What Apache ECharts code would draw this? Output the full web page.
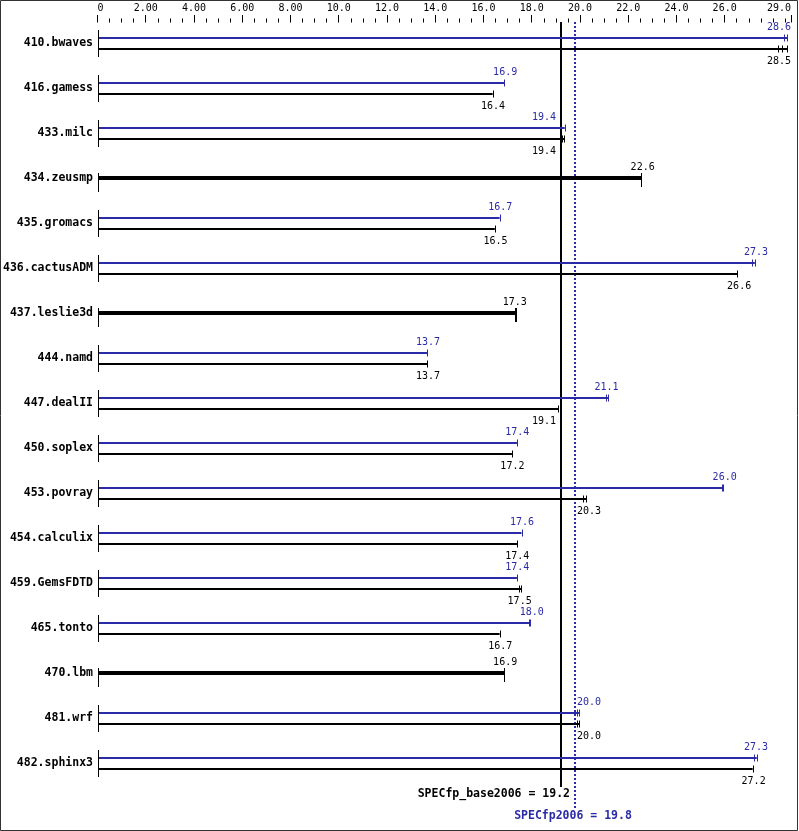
<!DOCTYPE html>
<html>
<head>
<meta charset="utf-8">
<script src="https://cdn.jsdelivr.net/npm/echarts@6/dist/echarts.min.js"></script>
<style>
html,body{margin:0;padding:0;background:#fff;}
#chart{width:799px;height:831px;}
</style>
</head>
<body>
<div id="chart"></div>
<script>
const categories = ['410.bwaves','416.gamess','433.milc','434.zeusmp','435.gromacs','436.cactusADM','437.leslie3d','444.namd','447.dealII','450.soplex','453.povray','454.calculix','459.GemsFDTD','465.tonto','470.lbm','481.wrf','482.sphinx3'];
const peakValues = [28.6, 16.9, 19.4, null, 16.7, 27.3, null, 13.7, 21.1, 17.4, 26.0, 17.6, 17.4, 18.0, null, 20.0, 27.3];
const baseValues = [28.5, 16.4, 19.4, 22.6, 16.5, 26.6, 17.3, 13.7, 19.1, 17.2, 20.3, 17.4, 17.5, 16.7, 16.9, 20.0, 27.2];
const peakRuns = [[28.45,28.6],[16.87],[19.37],null,[16.67],[27.15,27.25],null,[13.68],[21.08,21.18],[17.39],[25.9,25.95],[17.58],[17.39],[17.87,17.95],null,[19.86,19.97],[27.23,27.33]];
const baseRuns = [[28.22,28.38,28.59],[16.38],[19.24,19.34],[22.55],[16.47],[26.53],[17.29,17.36],[13.68],[19.09],[17.18],[20.12,20.26],[17.39],[17.46,17.57],[16.67],[16.86],[19.86,19.98],[27.16]];
const baseMean = 19.2;
const peakMean = 19.8;
const baseMeanLabel = 'SPECfp_base2006 = 19.2';
const peakMeanLabel = 'SPECfp2006 = 19.8';
const axisMax = 28.75;
const majorTicks = [0,2,4,6,8,10,12,14,16,18,20,22,24,26,28.75];
const majorLabels = ['0','2.00','4.00','6.00','8.00','10.0','12.0','14.0','16.0','18.0','20.0','22.0','24.0','26.0','29.0'];
const minorTicks = [0.5,1,1.5,2.5,3,3.5,4.5,5,5.5,6.5,7,7.5,8.5,9,9.5,10.5,11,11.5,12.5,13,13.5,14.5,15,15.5,16.5,17,17.5,18.5,19,19.5,20.5,21,21.5,22.5,23,23.5,24.5,25,25.5,26.5,27,27.5,28,28.5];

const BLUE = '#2b2ba8';
const BLACK = '#000000';
const MONO = '"DejaVu Sans Mono", monospace';

const chart = echarts.init(document.getElementById('chart'), null, {renderer:'canvas'});

function line(x1,y1,x2,y2,color,w,dash){
  return {type:'line', shape:{x1:x1,y1:y1,x2:x2,y2:y2}, style:{stroke:color,lineWidth:w,lineDash:dash||null}, silent:true};
}
function label(text,x,y,color,font,align){
  return {type:'text', style:{text:text,x:x,y:y,fill:color,font:font,align:align||'center',verticalAlign:'middle'}, silent:true, z2:10};
}

const AXIS_END_PX = 791;
const LABEL_W = 24;

function renderBench(params, api){
  const i = api.value(0);
  const p0 = api.coord([0, i]);
  const c = Math.round(p0[1]);
  const x0 = Math.round(p0[0]) + 0.5;
  const X = v => api.coord([v, i])[0];
  const xb = Math.round(X(baseMean)), xp = Math.round(X(peakMean));
  const kids = [];
  const pv = peakValues[i], bv = baseValues[i];
  const place = (x) => {
    x = Math.min(x, AXIS_END_PX - LABEL_W/2);
    const lo = x - LABEL_W/2, hi = x + LABEL_W/2;
    if (hi > xb - 3 && lo < xp + 2) {
      const left = xb - 5 - LABEL_W/2, right = xp + 2 + LABEL_W/2;
      x = (Math.abs(x-left) <= Math.abs(x-right)) ? left : right;
    }
    return x;
  };
  if (pv === null) {
    const runs = baseRuns[i];
    const xe = X(Math.max.apply(null, runs));
    kids.push(line(x0-0.5, c, xe, c, BLACK, 4));
    runs.forEach(r => { const xr = Math.round(X(r)) + 0.5; kids.push(line(xr, c-5, xr, c+9, BLACK, 1)); });
    kids.push(line(x0, c-5, x0, c+14, BLACK, 1));
    kids.push(label(bv.toFixed(1), place(X(bv)), c-11, BLACK, '10px ' + MONO));
  } else {
    const yb = c - 5, yk = c + 6;
    const pr = peakRuns[i], br = baseRuns[i];
    kids.push(line(x0-0.5, yb, X(Math.max.apply(null, pr)), yb, BLUE, 2));
    kids.push(line(x0-0.5, yk, X(Math.max.apply(null, br)), yk, BLACK, 2));
    pr.forEach(r => { const xr = Math.round(X(r)) + 0.5; kids.push(line(xr, yb-3.5, xr, yb+3.5, BLUE, 1)); });
    br.forEach(r => { const xr = Math.round(X(r)) + 0.5; kids.push(line(xr, yk-3.5, xr, yk+3.5, BLACK, 1)); });
    kids.push(line(x0, c-13, x0, c+14, BLACK, 1));
    kids.push(label(pv.toFixed(1), place(X(pv)), c-16, BLUE, '10px ' + MONO));
    kids.push(label(bv.toFixed(1), place(X(bv)), c+18, BLACK, '10px ' + MONO));
  }
  return {type:'group', children:kids};
}

function renderMeans(params, api){
  const last = categories.length - 1;
  const top = api.coord([0, 0])[1] - 21;
  const bot = api.coord([0, last])[1];
  const xb = Math.round(api.coord([api.value(0), 0])[0]);
  const xp = Math.round(api.coord([api.value(1), 0])[0]);
  return {type:'group', children:[
    line(xb, top, xb, bot+24, BLACK, 2),
    line(xp, top, xp, bot+45, BLUE, 2, [2,2]),
    label(baseMeanLabel, xb+9, bot+31.5, BLACK, 'bold 11.5px ' + MONO, 'right'),
    label(peakMeanLabel, xp-2, bot+53.5, BLUE, 'bold 11.5px ' + MONO, 'center')
  ]};
}

const option = {
  animation:false,
  backgroundColor:'#ffffff',
  grid:{left:97.5, right:8, top:20.5, bottom:45.5, containLabel:false},
  xAxis:[{
    type:'value', position:'top', min:0, max:axisMax, offset:-2,
    axisLine:{show:false}, splitLine:{show:false},
    axisTick:{show:true, length:7.5, customValues:majorTicks, lineStyle:{color:BLACK,width:1}},
    axisLabel:{show:true, customValues:majorTicks, margin:9, color:BLACK, fontSize:10, fontFamily:MONO,
      alignMinLabel:'left', alignMaxLabel:'right',
      formatter:function(v){ const k = majorTicks.indexOf(v); return k>=0 ? majorLabels[k] : ''; }}
  },{
    type:'value', position:'top', min:0, max:axisMax, offset:-2,
    axisLine:{show:false}, splitLine:{show:false},
    axisTick:{show:true, length:4, customValues:minorTicks, lineStyle:{color:BLACK,width:1}},
    axisLabel:{show:false}
  }],
  yAxis:{
    type:'category', data:categories, inverse:true,
    axisLine:{show:false}, axisTick:{show:false}, splitLine:{show:false},
    axisLabel:{margin:4.5, color:BLACK, fontSize:11.5, fontWeight:'bold', fontFamily:MONO}
  },
  series:[{
    type:'custom', xAxisIndex:0, clip:false, z:3,
    data: categories.map((c, i) => [i, baseValues[i]]),
    encode:{x:1, y:0},
    renderItem: renderBench
  },{
    type:'custom', xAxisIndex:0, clip:false, z:2,
    data:[[baseMean, peakMean]],
    encode:{x:0},
    renderItem: renderMeans
  }],
  graphic:[{type:'rect', shape:{x:0.5,y:0.5,width:797,height:830}, style:{fill:null, stroke:'#333', lineWidth:1}, silent:true, z:100}]
};
chart.setOption(option);
</script>
</body>
</html>
